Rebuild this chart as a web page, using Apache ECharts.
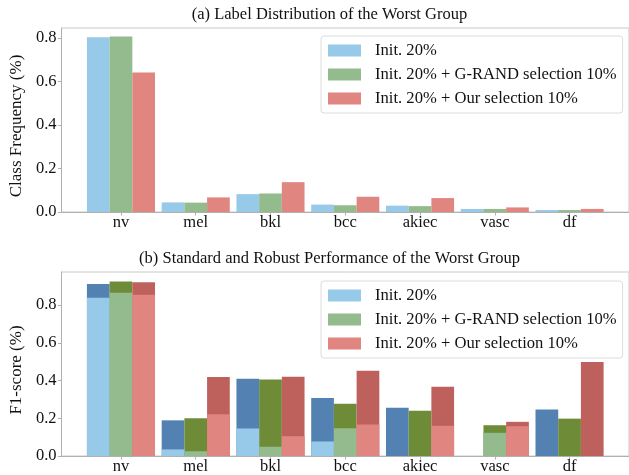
<!DOCTYPE html>
<html><head><meta charset="utf-8">
<script src="https://cdn.jsdelivr.net/npm/echarts@6/dist/echarts.min.js"></script>
<style>html,body{margin:0;padding:0;background:#fff}#c{width:629px;height:475px}</style>
</head><body><div id="c"></div>
<script>
const categories = ['nv', 'mel', 'bkl', 'bcc', 'akiec', 'vasc', 'df'];
const seriesNames = ['Init. 20%', 'Init. 20% + G-RAND selection 10%', 'Init. 20% + Our selection 10%'];
const yTicks = [0, 0.2, 0.4, 0.6, 0.8];
// (a) label distribution (class frequency)
const freqInit  = [0.803, 0.044, 0.082, 0.034, 0.029, 0.014, 0.009];
const freqGrand = [0.806, 0.043, 0.085, 0.031, 0.027, 0.014, 0.009];
const freqOurs  = [0.641, 0.067, 0.137, 0.070, 0.064, 0.021, 0.014];
// (b) standard F1 (dark, full bar)
const f1StdInit  = [0.911, 0.189, 0.410, 0.307, 0.256, 0.000, 0.247];
const f1StdGrand = [0.925, 0.200, 0.406, 0.277, 0.240, 0.163, 0.198];
const f1StdOurs  = [0.921, 0.418, 0.420, 0.452, 0.367, 0.181, 0.498];
// (b) robust F1 (light, overlaid)
const f1RobInit  = [0.839, 0.035, 0.146, 0.077, 0.000, 0.000, 0.000];
const f1RobGrand = [0.865, 0.025, 0.049, 0.147, 0.000, 0.123, 0.000];
const f1RobOurs  = [0.854, 0.221, 0.105, 0.167, 0.160, 0.158, 0.000];

const FONT = "'Liberation Serif', 'DejaVu Serif', serif";
const lightColors = ['#96CAE8', '#94BB8E', '#E08580'];
const darkColors  = ['#5381B2', '#6E8B38', '#BE605C'];
const axisGray = '#b0b0b0';
const idx = categories.map((c, i) => i);

function xAxisCfg(gridIndex, show) {
  return {
    type: 'value', gridIndex: gridIndex, min: -0.795, max: 6.795, show: show,
    axisLine: { show: true, onZero: false, lineStyle: { color: axisGray, width: 1 } },
    axisTick: { show: true, customValues: idx, length: 3.5, lineStyle: { color: axisGray } },
    axisLabel: { customValues: idx, formatter: v => categories[Math.round(v)], margin: 2,
                 color: '#111', fontFamily: FONT, fontSize: 16.5 },
    splitLine: { show: false }
  };
}
function yAxisCfg(gridIndex, max, name) {
  return {
    type: 'value', gridIndex: gridIndex, min: 0, max: max,
    name: name, nameLocation: 'middle', nameGap: 31,
    nameTextStyle: { fontFamily: FONT, fontSize: 17, color: '#111', padding: [0, 12, 0, 0] },
    axisLine: { show: true, onZero: false, lineStyle: { color: axisGray, width: 1 } },
    axisTick: { show: true, customValues: yTicks, length: 3.5, lineStyle: { color: axisGray } },
    axisLabel: { customValues: yTicks, formatter: v => v.toFixed(1), margin: 5,
                 color: '#111', fontFamily: FONT, fontSize: 16.5 },
    splitLine: { show: false }
  };
}
function bars(name, vals, xi, yi, color, z) {
  return {
    type: 'bar', name: name, xAxisIndex: xi, yAxisIndex: yi, z: z,
    barWidth: 22.7, barGap: '0%',
    data: vals.map((v, i) => [i, v]),
    itemStyle: { color: color },
    emphasis: { disabled: true }
  };
}
function legendCfg(top) {
  return {
    left: 321, top: top, orient: 'vertical', data: seriesNames,
    icon: 'rect', itemWidth: 33, itemHeight: 12, itemGap: 7,
    padding: [6, 6, 6, 7], borderColor: '#dcdcdc', borderWidth: 1, borderRadius: 3,
    backgroundColor: 'rgba(255,255,255,0.8)', selectedMode: false,
    textStyle: { fontFamily: FONT, fontSize: 16.6, color: '#111', padding: [0, 0, 0, 9] }
  };
}

const chart = echarts.init(document.getElementById('c'), null, { renderer: 'canvas' });
chart.setOption({
  animation: false,
  backgroundColor: '#fff',
  grid: [
    { left: 54, top: 28, width: 577, height: 184, show: true, borderColor: '#c8c8c8', borderWidth: 1 },
    { left: 54, top: 272, width: 577, height: 184, show: true, borderColor: '#c8c8c8', borderWidth: 1 }
  ],
  xAxis: [xAxisCfg(0, true), xAxisCfg(1, true), xAxisCfg(1, false)],
  yAxis: [yAxisCfg(0, 0.845, 'Class Frequency (%)'), yAxisCfg(1, 0.975, 'F1-score (%)')],
  legend: [legendCfg(36), legendCfg(281)],
  graphic: [
    { type: 'text', x: 329.5, y: 15, style: { text: '(a) Label Distribution of the Worst Group',
      font: "16.5px " + FONT, fill: '#111', textAlign: 'center', textVerticalAlign: 'middle' } },
    { type: 'text', x: 329.5, y: 259, style: { text: '(b) Standard and Robust Performance of the Worst Group',
      font: "16.5px " + FONT, fill: '#111', textAlign: 'center', textVerticalAlign: 'middle' } }
  ],
  series: [
    bars(seriesNames[0], freqInit, 0, 0, lightColors[0], 2),
    bars(seriesNames[1], freqGrand, 0, 0, lightColors[1], 2),
    bars(seriesNames[2], freqOurs, 0, 0, lightColors[2], 2),
    bars('std ' + seriesNames[0], f1StdInit, 1, 1, darkColors[0], 2),
    bars('std ' + seriesNames[1], f1StdGrand, 1, 1, darkColors[1], 2),
    bars('std ' + seriesNames[2], f1StdOurs, 1, 1, darkColors[2], 2),
    bars(seriesNames[0], f1RobInit, 2, 1, lightColors[0], 3),
    bars(seriesNames[1], f1RobGrand, 2, 1, lightColors[1], 3),
    bars(seriesNames[2], f1RobOurs, 2, 1, lightColors[2], 3)
  ]
});
</script></body></html>
